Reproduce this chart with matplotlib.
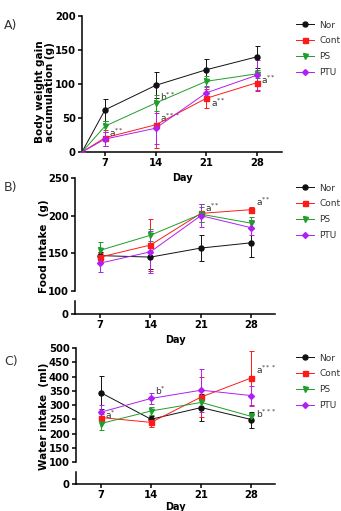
import matplotlib.pyplot as plt
from matplotlib.lines import Line2D
import numpy as np

W, H = 341, 511
groups = ['Nor', 'Cont', 'PS', 'PTU']
colors = {'Nor': '#111111', 'Cont': '#ff1a1a', 'PS': '#1e9e2a', 'PTU': '#b020f0'}
markers = {'Nor': 'o', 'Cont': 's', 'PS': 'v', 'PTU': 'D'}

# A) body weight gain, day 0 included
days_a = [0, 7, 14, 21, 28]
bw_mean = {
    'Nor':  [0, 62, 98, 121, 140],
    'Cont': [0, 21, 40, 79, 102],
    'PS':   [0, 38, 72, 104, 115],
    'PTU':  [0, 19, 35, 87, 113],
}
bw_err = {
    'Nor':  [0, 16, 19, 16, 16],
    'Cont': [0, 12, 34, 14, 12],
    'PS':   [0, 8, 12, 8, 6],
    'PTU':  [0, 10, 23, 10, 22],
}
bw_notes = [(7, 28, 'a$^{**}$'), (14, 81, 'b$^{**}$'), (14, 50, 'a$^{***}$'),
            (21, 73, 'a$^{**}$'), (28, 106, 'a$^{**}$')]

# B) food intake
days = [7, 14, 21, 28]
food_mean = {
    'Nor':  [147, 145, 157, 164],
    'Cont': [145, 161, 203, 208],
    'PS':   [154, 174, 202, 190],
    'PTU':  [137, 152, 200, 184],
}
food_err = {
    'Nor':  [5, 16, 17, 19],
    'Cont': [5, 35, 12, 4],
    'PS':   [11, 8, 10, 8],
    'PTU':  [12, 28, 15, 10],
}
food_notes = [(21, 211, 'a$^{**}$'), (28, 218, 'a$^{**}$')]

# C) water intake
water_mean = {
    'Nor':  [343, 250, 291, 249],
    'Cont': [256, 239, 328, 395],
    'PS':   [235, 279, 309, 260],
    'PTU':  [275, 323, 352, 333],
}
water_err = {
    'Nor':  [58, 12, 47, 28],
    'Cont': [12, 15, 70, 95],
    'PS':   [22, 15, 20, 12],
    'PTU':  [25, 18, 75, 35],
}
water_notes = [(7, 265, 'a$^{*}$'), (14, 349, 'b$^{*}$'),
               (28, 424, 'a$^{***}$'), (28, 269, 'b$^{***}$')]

fig = plt.figure(figsize=(W / 100, H / 100), dpi=100)


def box(x0, x1, y0, y1):
    # pixel box (top-left origin) -> figure fraction
    return [x0 / W, (H - y1) / H, (x1 - x0) / W, (y1 - y0) / H]


def msize(g):
    return 3.0 if markers[g] == 'D' else 3.6


def draw_series(ax, x, mean, err, xmin):
    for g in groups:
        xs = np.clip(x, xmin, None)
        # no marker on the day-0 origin point
        shown = [i for i, d in enumerate(x) if d > 0]
        ax.errorbar(xs, mean[g], yerr=err[g], color=colors[g], marker=markers[g],
                    markevery=shown, ms=msize(g), lw=0.7, elinewidth=0.7,
                    capsize=1.8, capthick=0.7, clip_on=False, zorder=3)


def style(ax):
    ax.spines['top'].set_visible(False)
    ax.spines['right'].set_visible(False)
    for s in ax.spines.values():
        s.set_linewidth(1.1)
    ax.tick_params(width=1.1, length=3, labelsize=7.2, pad=1.5)
    for lbl in ax.get_xticklabels() + ax.get_yticklabels():
        lbl.set_fontweight('bold')


def notes(ax, items):
    for x, y, t in items:
        ax.text(x + 0.6, y, t, fontsize=6.5, color='#333333', va='center')


def legend(ax, y_top):
    handles = [Line2D([], [], color=colors[g], marker=markers[g], ms=msize(g), lw=0.7)
               for g in groups]
    ax.legend(handles, groups, loc='upper left', bbox_to_anchor=(292 / W, 1 - y_top / H),
              bbox_transform=fig.transFigure, frameon=False, fontsize=6.5,
              handlelength=2.0, labelspacing=0.75, handletextpad=0.6,
              borderaxespad=0, labelcolor='#333333')


# ---- panel A
axA = fig.add_axes(box(82, 282, 16, 152))
draw_series(axA, days_a, bw_mean, bw_err, 3.82)
axA.set_xlim(3.82, 31.45)
axA.set_ylim(0, 200)
axA.set_xticks(days)
axA.set_yticks([0, 50, 100, 150, 200])
style(axA)
notes(axA, bw_notes)
legend(axA, 17)
fig.text(182 / W, 1 - 178 / H, 'Day', ha='center', va='center', fontsize=7, fontweight='bold')
fig.text(45 / W, 1 - 92 / H, 'Body weight gain\naccumulation (g)', rotation=90,
         ha='center', va='center', fontsize=7.5, fontweight='bold', linespacing=1.1)
fig.text(4 / W, 1 - 25 / H, 'A)', fontsize=9, va='center', color='#333333')


def broken_panel(x0, x1, top, brk, lo_top, lo_bot, lims, ticks, mean, err, nts, ylabel,
                 tag, tag_y, day_y, leg_y):
    up = fig.add_axes(box(x0, x1, top, brk))
    lo = fig.add_axes(box(x0, x1, lo_top, lo_bot))
    draw_series(up, days, mean, err, 3.52)
    for ax in (up, lo):
        ax.set_xlim(3.52, 31.3)
        ax.set_xticks(days)
        style(ax)
    up.set_ylim(*lims)
    up.set_yticks(ticks)
    up.spines['bottom'].set_visible(False)
    up.tick_params(axis='x', bottom=False, labelbottom=False)
    lo.set_ylim(0, 10)
    lo.set_yticks([0])
    lo.patch.set_alpha(0)
    notes(up, nts)
    legend(up, leg_y)
    fig.text((x0 + x1) / 2 / W, 1 - day_y / H, 'Day', ha='center', va='center',
             fontsize=7, fontweight='bold')
    fig.text(44 / W, 1 - (top + lo_bot) / 2 / H, ylabel, rotation=90, ha='center',
             va='center', fontsize=7.5, fontweight='bold')
    fig.text(4 / W, 1 - tag_y / H, tag, fontsize=9, va='center', color='#333333')


broken_panel(75, 275, 178, 291, 301, 314, (100, 250), [100, 150, 200, 250],
             food_mean, food_err, food_notes, 'Food intake  (g)', 'B)', 188, 340, 180)
broken_panel(76, 275, 348, 462, 472, 484, (100, 500), list(range(100, 501, 50)),
             water_mean, water_err, water_notes, 'Water intake  (ml)', 'C)', 361, 507, 350)

fig.savefig('out.png', dpi=100)
